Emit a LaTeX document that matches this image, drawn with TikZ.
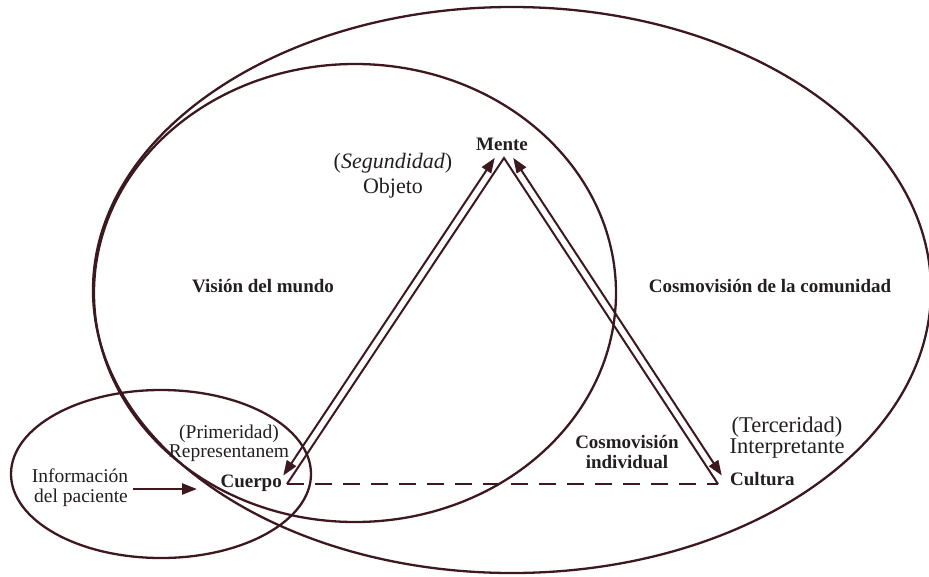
\documentclass[tikz,border=0pt]{standalone}
\usepackage{fontspec}
\setmainfont{Liberation Serif}
\usetikzlibrary{arrows.meta,calc}
\definecolor{ln}{RGB}{62,24,31}
\definecolor{tx}{RGB}{35,31,32}
\begin{document}
\begin{tikzpicture}[x=1pt,y=-1pt,
  ell/.style={draw=ln,line width=2.3pt},
  side/.style={draw=ln,line width=2pt,line join=miter},
  base/.style={draw=ln,line width=2.5pt,dash pattern=on 17pt off 11pt},
  dbl/.style={draw=ln,line width=2pt,{Triangle[length=15pt,width=11pt]}-{Triangle[length=15pt,width=11pt]},shorten <=5pt,shorten >=5pt},
  one/.style={draw=ln,line width=2.5pt,-{Triangle[length=15pt,width=11pt]}},
  bl/.style={text=tx,font=\bfseries\fontsize{19}{22}\selectfont,anchor=base,inner sep=0pt},
  rg/.style={text=tx,font=\fontsize{#1}{#1}\selectfont,anchor=base,inner sep=0pt},
  rg/.default=19.5]
\useasboundingbox (0,0) rectangle (929,576);
% ellipses
\draw[ell] (512,290) ellipse [x radius=419, y radius=283];
\draw[ell] (355,293) ellipse [x radius=261, y radius=229];
\draw[ell] (161,474) ellipse [x radius=150, y radius=84];
% triangle vertices
\coordinate (cu) at (287,484);
\coordinate (me) at (504,158);
\coordinate (cl) at (718,484);
\draw[side] (cl) -- (me) -- (cu);
\draw[base] (cu) -- (cl);
% offset double arrows
\coordinate (la) at ($(cu)+(-6.5,-4.3)$);
\coordinate (lb) at ($(me)+(-6.5,-4.3)$);
\coordinate (ra) at ($(me)+(6.5,-4.3)$);
\coordinate (rb) at ($(cl)+(6.5,-4.3)$);
\draw[dbl] (la) -- (lb);
\draw[dbl] (ra) -- (rb);
% input arrow
\coordinate (ia) at (133,489);
\coordinate (ib) at (197,489);
\draw[one] (ia) -- (ib);
% labels
\node[bl] (mente) at (502,150) {Mente};
\node[bl,anchor=base east] (cuerpo) at (282,487) {Cuerpo};
\node[bl,anchor=base west] (cultura) at (730,485) {Cultura};
\node[bl] (vision) at (263,292) {Visión del mundo};
\node[bl] (comun) at (770,292) {Cosmovisión de la comunidad};
\node[bl] (ind1) at (627,448) {Cosmovisión};
\node[bl] (ind2) at (627,468) {individual};
\node[rg=22] (seg) at (393,168) {(\textit{Segundidad})};
\node[rg=22] (obj) at (393,193) {Objeto};
\node[rg=19.5] (pri) at (229,438) {(Primeridad)};
\node[rg=19.5] (rep) at (229,457) {Representanem};
\node[rg=19.5] (inf1) at (80,482) {Información};
\node[rg=19.5] (inf2) at (81,502) {del paciente};
\node[rg=22.5] (ter) at (787,432) {(Terceridad)};
\node[rg=22.5] (int) at (787,453) {Interpretante};
\end{tikzpicture}
\end{document}
